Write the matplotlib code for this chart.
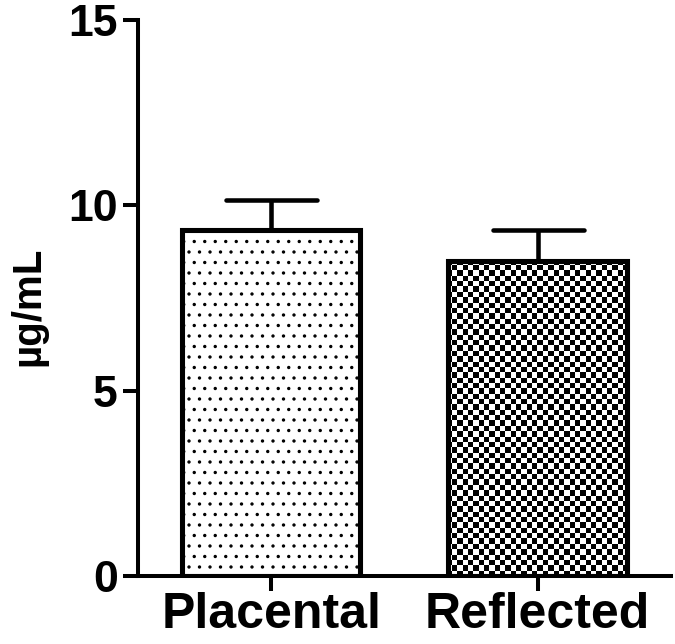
#!/usr/bin/env python3
"""Bar chart of placental vs reflected membrane concentration (ug/mL)."""

import numpy as np
import matplotlib

matplotlib.use("Agg")
import matplotlib.pyplot as plt
from matplotlib.markers import MarkerStyle


categories = ["Placental", "Reflected"]
means = [9.33, 8.50]
sem = [0.81, 0.83]
y_ticks = [0, 5, 10, 15]

DPI = 126  # chosen so the '..' hatch spacing matches the dot grid

plt.rcParams.update({
    "font.family": ["Liberation Sans", "DejaVu Sans"],
    "font.weight": "bold",
    "axes.linewidth": 2.3,
    "hatch.linewidth": 0.7,
})

fig = plt.figure(figsize=(675 / DPI, 644 / DPI), dpi=DPI)
ax = fig.add_axes([0.2044, 0.1056, 0.7896, 0.8634])

x = np.arange(len(categories))
width = 0.67

# white fill (with dot hatch on the first bar)
fills = ax.bar(x, means, width, facecolor="white", edgecolor="black",
               linewidth=0, zorder=2)
fills[0].set_hatch("..")

# checkerboard texture for the second bar, clipped to the bar outline
cell_px = 5.33
ax_w = 0.7896 * 675
ax_h = 0.8634 * 644
nx = int(round(ax_w / cell_px))
ny = int(round(ax_h / cell_px))
checker = (np.add.outer(np.arange(ny), np.arange(nx)) % 2).astype(float)
img = ax.imshow(checker, cmap="gray_r", vmin=0, vmax=1, interpolation="nearest",
                extent=(0, 1, 0, 1), transform=ax.transAxes, aspect="auto",
                zorder=2.5)
img.set_clip_path(fills[1])

# outlines on top
ax.bar(x, means, width, facecolor="none", edgecolor="black", linewidth=2.9,
       zorder=3)

# upper-only error bars
lower = np.zeros(len(sem))
_, caplines, _ = ax.errorbar(x, means, yerr=[lower, sem], fmt="none",
                             ecolor="black", elinewidth=2.6, capsize=26,
                             capthick=2.6, zorder=1)
for cl in caplines:
    cl.set_marker(MarkerStyle("_", capstyle="round"))

ax.set_xlim(-0.5, 1.5)
ax.set_ylim(0, 15)
ax.set_yticks(y_ticks)
ax.set_xticks(x)
ax.set_xticklabels(categories, fontsize=28.6, fontweight="bold")
ax.tick_params(axis="y", labelsize=25.5, length=8.6, width=2.3, pad=3)
ax.tick_params(axis="x", length=8.6, width=2.3, pad=0.8)
ax.set_ylabel("µg/mL", fontsize=23, fontweight="bold")
ax.yaxis.set_label_coords(-0.17, 0.485)

for side in ("top", "right"):
    ax.spines[side].set_visible(False)

fig.savefig("out.png", dpi=DPI)
